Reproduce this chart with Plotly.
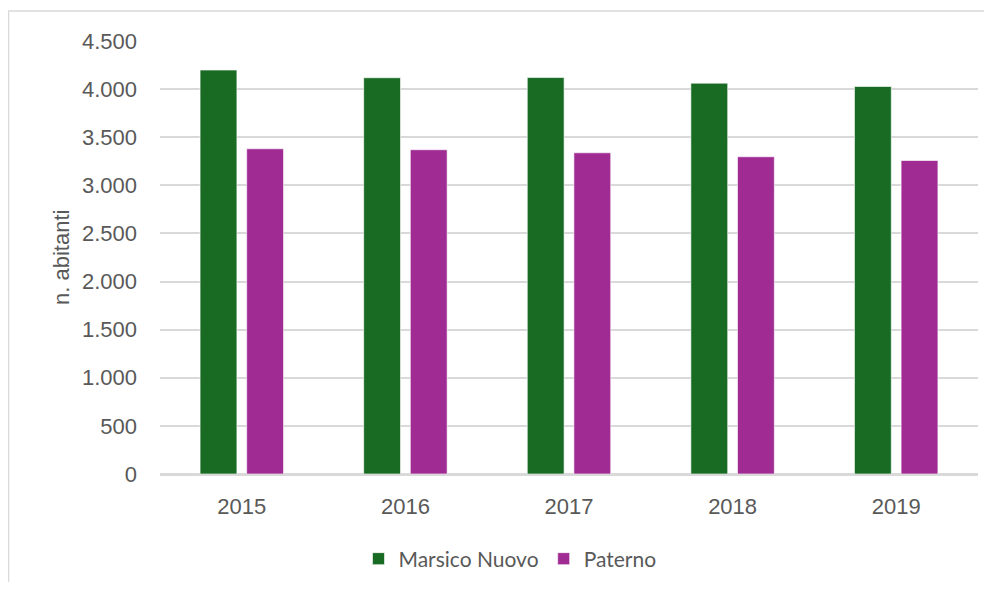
import plotly.graph_objs as go

# dati demografici (abitanti)
anni = ['2015', '2016', '2017', '2018', '2019']
marsico_nuovo = [4198, 4118, 4120, 4062, 4027]
paterno = [3380, 3370, 3338, 3297, 3258]

tick_vals = [0, 500, 1000, 1500, 2000, 2500, 3000, 3500, 4000, 4500]

GREEN = '#196B24'
MAGENTA = '#A02B93'
GRID = '#D9D9D9'
TEXT = '#595959'

# la pagina html ha un margine di 8px sul body: tutte le posizioni sono spostate
OFF = 8

fig = go.Figure()

fig.add_trace(go.Bar(
    x=anni,
    y=marsico_nuovo,
    name='Marsico Nuovo',
    marker=dict(color=GREEN, line=dict(color='rgba(255,255,255,0.6)', width=1))
))
fig.add_trace(go.Bar(
    x=anni,
    y=paterno,
    name='Paterno',
    marker=dict(color=MAGENTA, line=dict(color='rgba(255,255,255,0.6)', width=1))
))

# area del grafico (pixel della pagina): 160..978 x 41..474
W, H = 992 - 2 * OFF, 590 - 2 * OFF
L = 160 - OFF
T = 41 - OFF
R = W - (978 - OFF)
B = H - (474 - OFF)
pw, ph = W - L - R, H - T - B

def px_x(p):
    return (p - OFF - L) / pw

def px_y(p):
    return (H - B - (p - OFF)) / ph

fig.update_layout(
    width=W,
    height=H,
    autosize=False,
    separators=',.',
    plot_bgcolor='white',
    paper_bgcolor='white',
    barmode='group',
    bargap=0.43,
    bargroupgap=0.21,
    margin=dict(l=L, r=R, t=T, b=B, autoexpand=False),
    font=dict(family='Liberation Sans, Arial, sans-serif', color=TEXT, size=22),
    showlegend=True,
    legend=dict(
        orientation='h',
        xanchor='center',
        x=px_x(510),
        yanchor='middle',
        y=px_y(559),
        font=dict(family='Lato, sans-serif', size=21, color=TEXT),
        itemwidth=30,
        traceorder='normal',
    ),
    xaxis=dict(
        showgrid=False,
        showline=True,
        linecolor=GRID,
        linewidth=1.5,
        ticks='',
        ticklabelstandoff=12,
        tickfont=dict(size=22, color=TEXT),
    ),
    yaxis=dict(
        range=[0, 4500],
        tickvals=tick_vals,
        tickformat=',d',
        showgrid=True,
        gridcolor=GRID,
        gridwidth=1.5,
        zeroline=True,
        zerolinecolor=GRID,
        zerolinewidth=1.5,
        ticks='',
        ticklabelstandoff=22,
        tickfont=dict(size=22, color=TEXT),
    ),
    annotations=[dict(
        text='n. abitanti',
        textangle=-90,
        xref='paper', yref='paper',
        x=px_x(62), y=px_y(258),
        xanchor='center', yanchor='middle',
        showarrow=False,
        font=dict(family='Liberation Sans, Arial, sans-serif', size=22, color=TEXT),
    )],
    shapes=[dict(
        type='rect',
        xref='paper', yref='paper',
        x0=px_x(8.5), x1=px_x(1010),
        y0=px_y(610), y1=px_y(11),
        line=dict(color=GRID, width=1.5),
        fillcolor='rgba(0,0,0,0)',
        layer='below',
    )],
)

fig.write_html('out.html')
